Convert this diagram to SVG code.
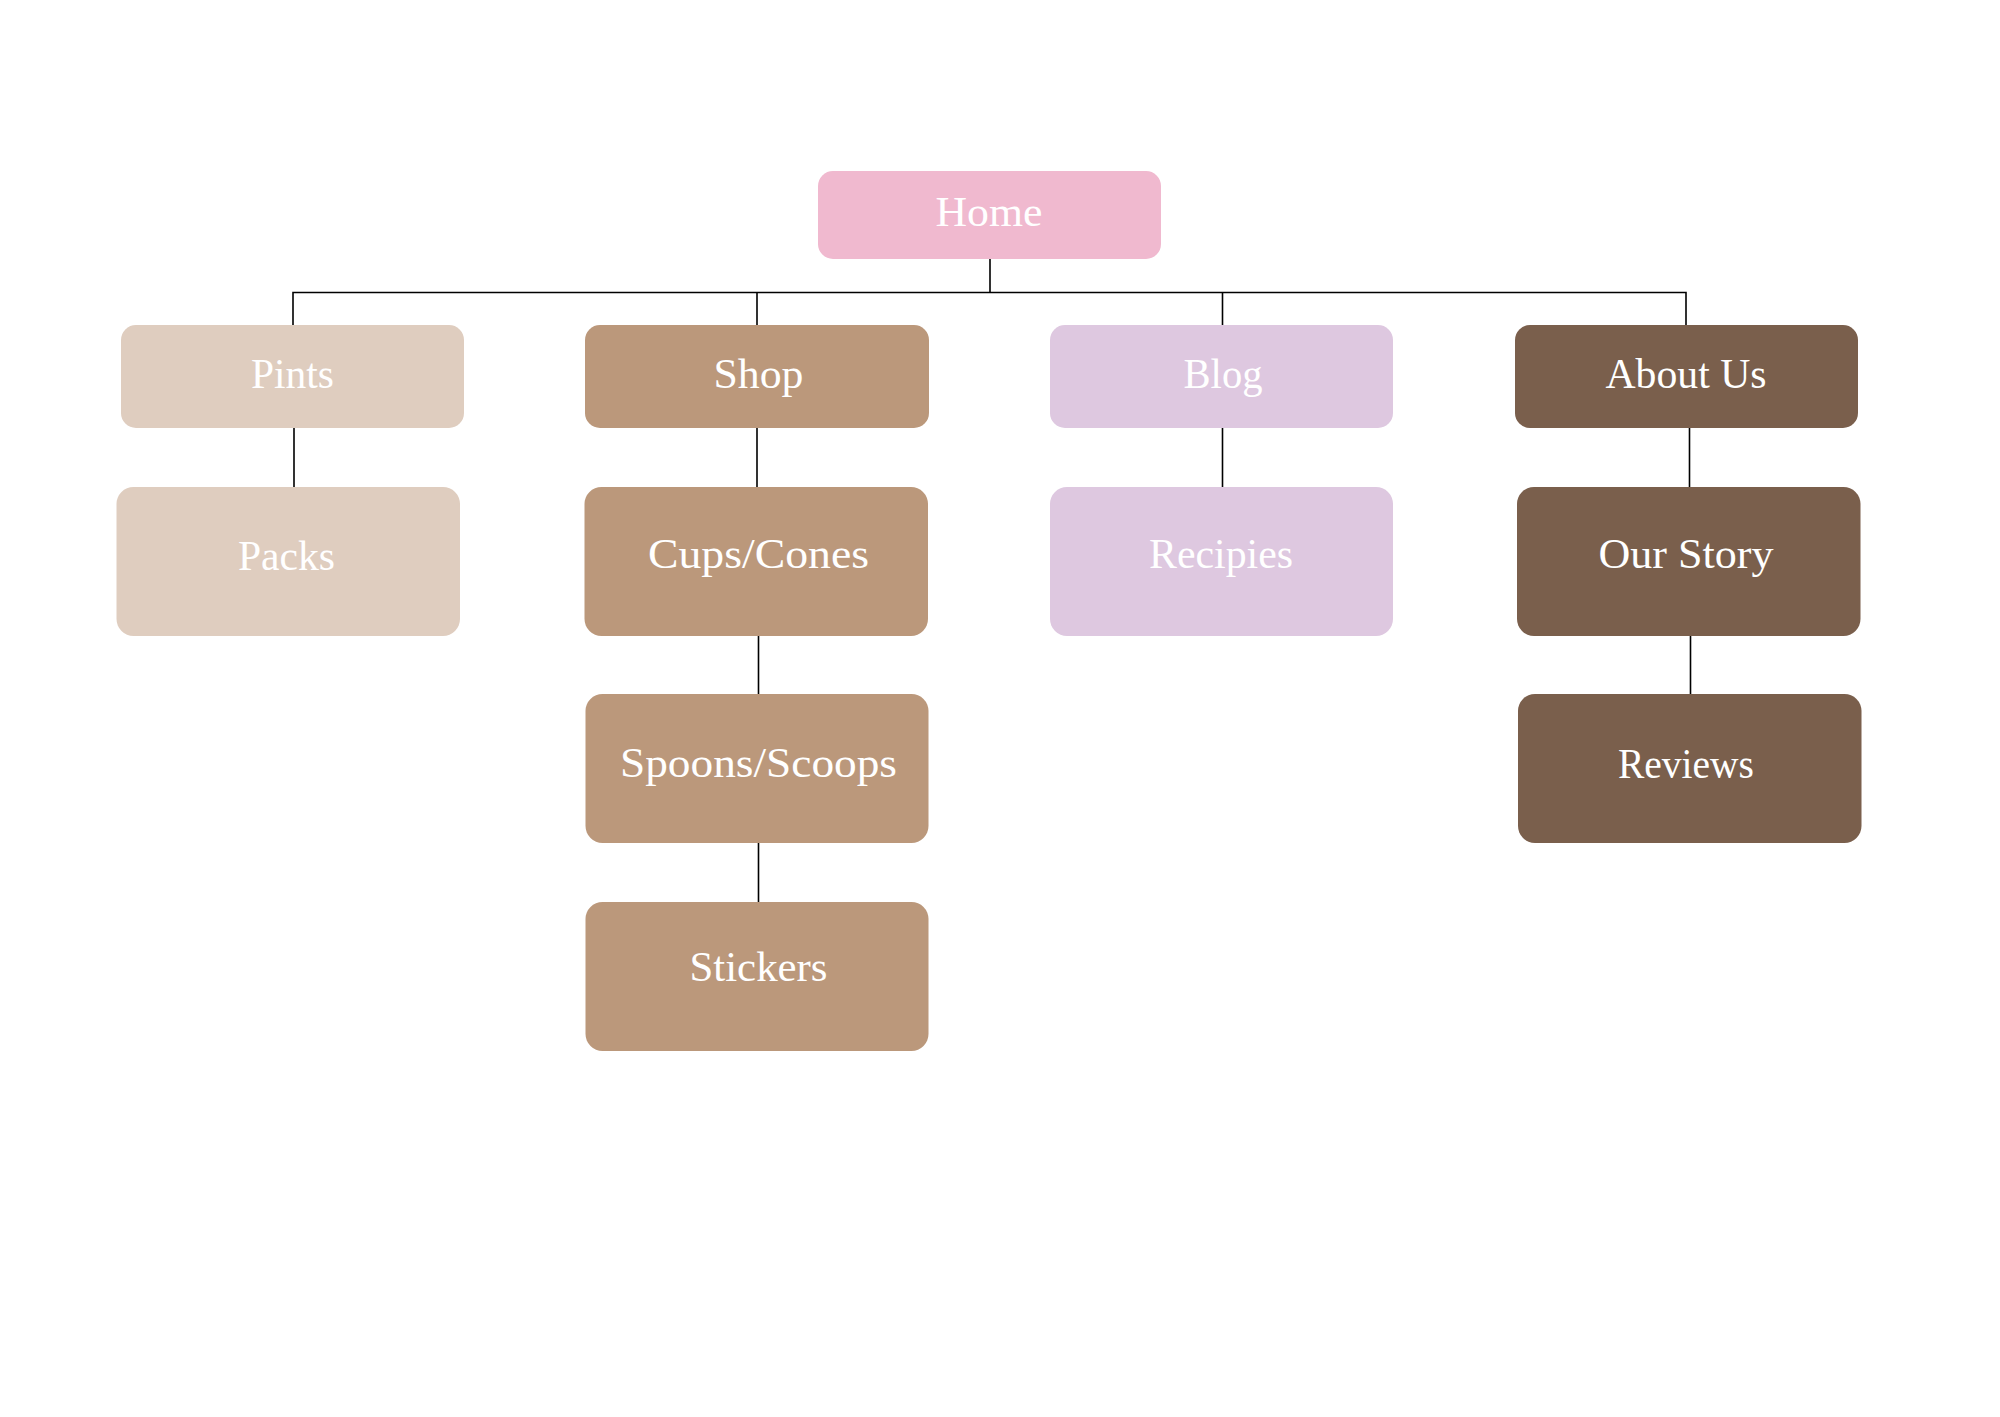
<svg xmlns="http://www.w3.org/2000/svg" width="2000" height="1417" viewBox="0 0 2000 1417">
<style>
.lbl{font-family:"Liberation Serif","Times New Roman",serif;font-size:42px;fill:#ffffff;text-anchor:middle}
.edge{stroke:#000;stroke-width:1.6;fill:none}
.home{fill:#F0B9CF}
.pints{fill:#DFCDBF}
.shop{fill:#BB987B}
.blog{fill:#DEC8E0}
.about{fill:#7A5F4C}
</style>
<rect width="2000" height="1417" fill="#ffffff"/>
<g id="connectors">
<path class="edge" d="M990 259V292.5M293 328V292.5H1686V328M757 292.5V328M1222.5 292.5V328"/>
<path class="edge" d="M294 427V488M757 427V488M758.5 635V695M758.5 842V903M1222.5 427V488M1689.5 427V488M1690.5 635V695"/>
</g>
<g id="home"><rect class="home" x="818" y="171" width="343" height="88" rx="15"/><text class="lbl" x="989" y="226" textLength="107" lengthAdjust="spacingAndGlyphs">Home</text></g>
<g id="pints"><rect class="pints" x="121" y="325" width="343" height="103" rx="15"/><text class="lbl" x="292.5" y="388" textLength="83" lengthAdjust="spacingAndGlyphs">Pints</text></g>
<g id="shop"><rect class="shop" x="585" y="325" width="344" height="103" rx="15"/><text class="lbl" x="758.5" y="388" textLength="90" lengthAdjust="spacingAndGlyphs">Shop</text></g>
<g id="blog"><rect class="blog" x="1050" y="325" width="343" height="103" rx="15"/><text class="lbl" x="1223" y="388" textLength="79" lengthAdjust="spacingAndGlyphs">Blog</text></g>
<g id="about-us"><rect class="about" x="1515" y="325" width="343" height="103" rx="15"/><text class="lbl" x="1686" y="388" textLength="161" lengthAdjust="spacingAndGlyphs">About Us</text></g>
<g id="packs"><rect class="pints" x="116.5" y="487" width="343.5" height="149" rx="17"/><text class="lbl" x="286.5" y="570" textLength="97" lengthAdjust="spacingAndGlyphs">Packs</text></g>
<g id="cups-cones"><rect class="shop" x="584.5" y="487" width="343.5" height="149" rx="17"/><text class="lbl" x="758.5" y="568" textLength="221" lengthAdjust="spacingAndGlyphs">Cups/Cones</text></g>
<g id="spoons-scoops"><rect class="shop" x="585.5" y="694" width="343" height="149" rx="17"/><text class="lbl" x="758.5" y="777" textLength="277" lengthAdjust="spacingAndGlyphs">Spoons/Scoops</text></g>
<g id="stickers"><rect class="shop" x="585.5" y="902" width="343" height="149" rx="17"/><text class="lbl" x="758.5" y="981" textLength="138" lengthAdjust="spacingAndGlyphs">Stickers</text></g>
<g id="recipies"><rect class="blog" x="1050" y="487" width="343" height="149" rx="17"/><text class="lbl" x="1221" y="568" textLength="144" lengthAdjust="spacingAndGlyphs">Recipies</text></g>
<g id="our-story"><rect class="about" x="1517" y="487" width="343.5" height="149" rx="17"/><text class="lbl" x="1686" y="568" textLength="175" lengthAdjust="spacingAndGlyphs">Our Story</text></g>
<g id="reviews"><rect class="about" x="1518" y="694" width="343.5" height="149" rx="17"/><text class="lbl" x="1686" y="778" textLength="136" lengthAdjust="spacingAndGlyphs">Reviews</text></g>
</svg>
